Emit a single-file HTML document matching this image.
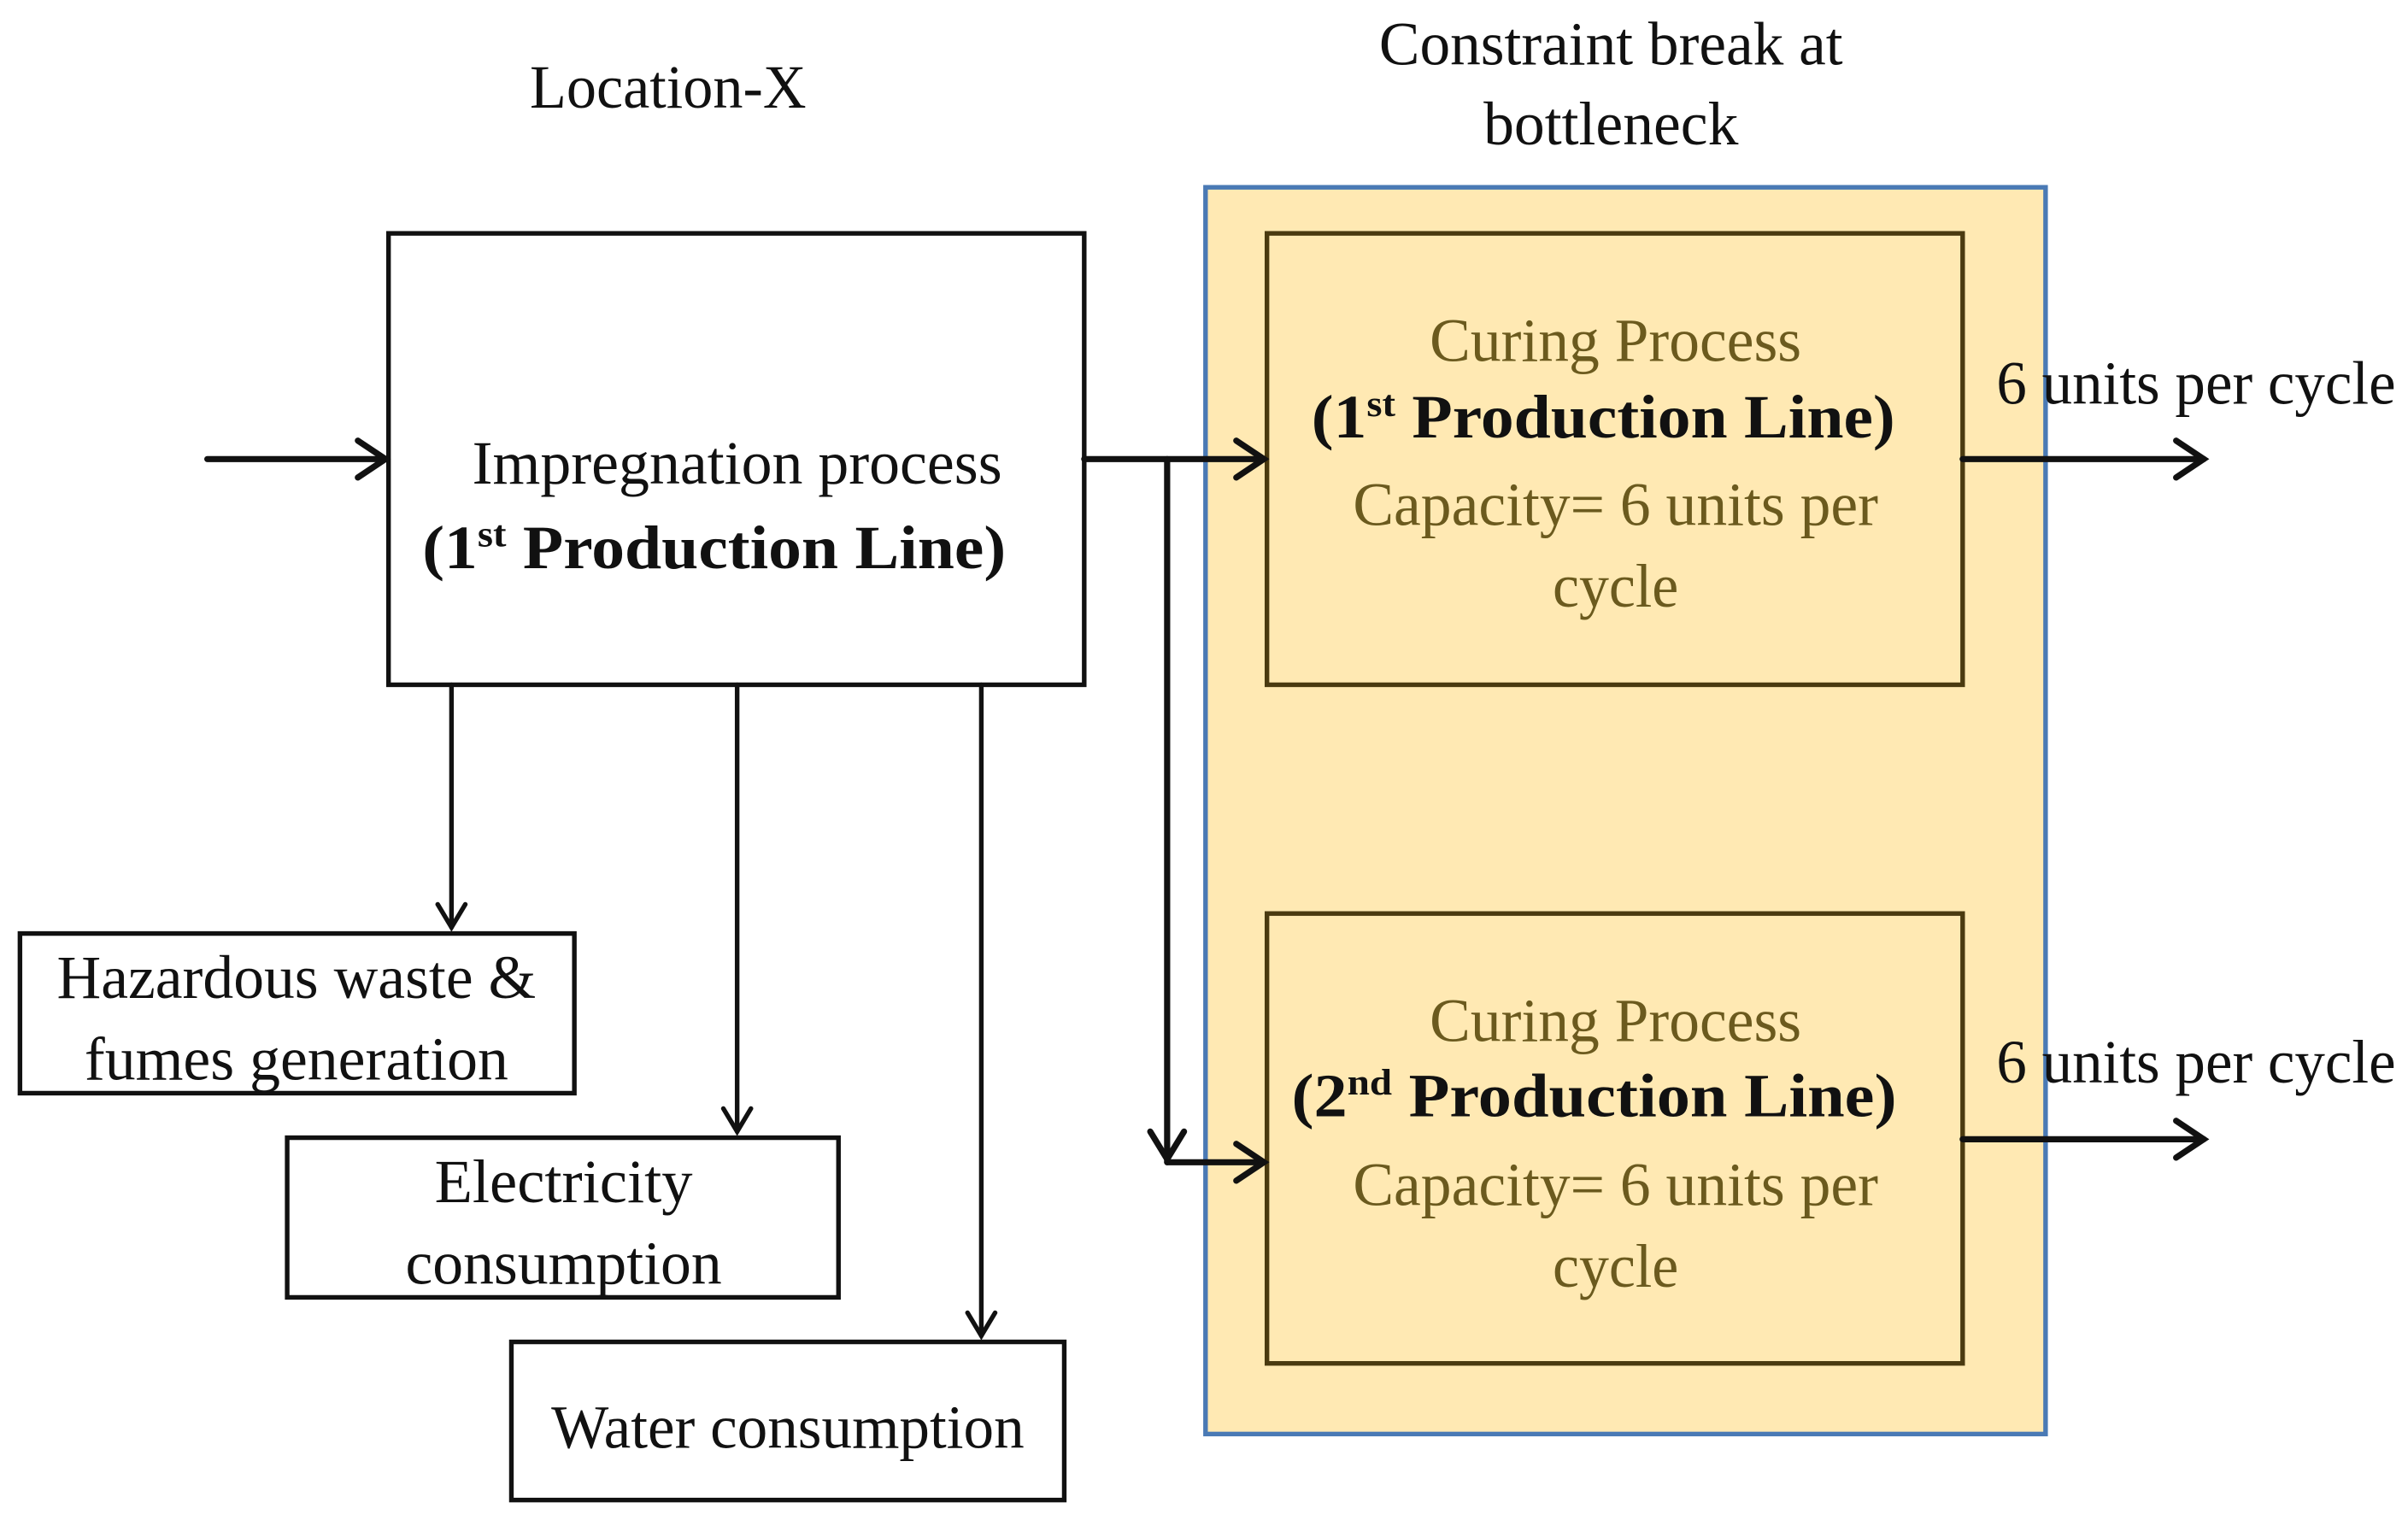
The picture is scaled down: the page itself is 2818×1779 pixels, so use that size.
<!DOCTYPE html>
<html><head><meta charset="utf-8"><style>html,body{margin:0;padding:0;background:#fff}svg{display:block}</style></head>
<body>
<svg width="2818" height="1779" viewBox="0 0 1568 990" preserveAspectRatio="none" xmlns="http://www.w3.org/2000/svg" font-family="Liberation Serif, serif" font-size="40">
<defs>
<marker id="a" viewBox="0 0 10 10" refX="9" refY="5" markerWidth="6" markerHeight="6" orient="auto" markerUnits="userSpaceOnUse">
</marker>
</defs>
<g text-anchor="middle" fill="#111">
<text x="435" y="70" textLength="180" lengthAdjust="spacingAndGlyphs">Location-X</text>
<text x="1049" y="42" textLength="302" lengthAdjust="spacingAndGlyphs">Constraint break at</text>
<text x="1049" y="94" textLength="166" lengthAdjust="spacingAndGlyphs">bottleneck</text>
</g>
<rect x="785" y="122" width="547" height="812" fill="#FFE9B3" stroke="#4a7ab5" stroke-width="3"/>
<g fill="none" stroke="#111" stroke-width="3">
<rect x="253" y="152" width="453" height="294" fill="#fff"/>
<rect x="13" y="608" width="361" height="104" fill="#fff"/>
<rect x="187" y="741" width="359" height="104" fill="#fff"/>
<rect x="333" y="874" width="360" height="103" fill="#fff"/>
</g>
<g fill="none" stroke="#4a3a10" stroke-width="3">
<rect x="825" y="152" width="453" height="294"/>
<rect x="825" y="595" width="453" height="293"/>
</g>
<g fill="none" stroke="#111" stroke-width="4" stroke-linecap="round">
<line x1="135" y1="299" x2="251" y2="299"/><polyline points="233,287 251,299 233,311"/>
<line x1="706" y1="299" x2="823" y2="299"/><polyline points="805,287 823,299 805,311"/>
<line x1="760" y1="299" x2="760" y2="757"/><polyline points="749,737 760,755 771,737"/>
<line x1="760" y1="757" x2="823" y2="757"/><polyline points="805,745 823,757 805,769"/>
<line x1="1278" y1="299" x2="1435" y2="299"/><polyline points="1417,287 1435,299 1417,311"/>
<line x1="1278" y1="742" x2="1435" y2="742"/><polyline points="1417,730 1435,742 1417,754"/>
</g>
<g fill="none" stroke="#111" stroke-width="3" stroke-linecap="round">
<line x1="294" y1="446" x2="294" y2="604"/><polyline points="285,589 294,604 303,589"/>
<line x1="480" y1="446" x2="480" y2="737"/><polyline points="471,722 480,737 489,722"/>
<line x1="639" y1="446" x2="639" y2="870"/><polyline points="630,855 639,870 648,855"/>
</g>
<g text-anchor="middle" fill="#111">
<text x="480" y="315" textLength="345" lengthAdjust="spacingAndGlyphs">Impregnation process</text>
<text x="465" y="370" font-weight="bold" textLength="380" lengthAdjust="spacingAndGlyphs">(1<tspan font-size="24" dy="-14">st</tspan><tspan dy="14"> Production Line)</tspan></text>
<text x="193" y="650" textLength="312" lengthAdjust="spacingAndGlyphs">Hazardous waste &amp;</text>
<text x="193" y="703" textLength="276" lengthAdjust="spacingAndGlyphs">fumes generation</text>
<text x="367" y="783" textLength="168" lengthAdjust="spacingAndGlyphs">Electricity</text>
<text x="367" y="836" textLength="206" lengthAdjust="spacingAndGlyphs">consumption</text>
<text x="513" y="943" textLength="308" lengthAdjust="spacingAndGlyphs">Water consumption</text>
</g>
<g text-anchor="middle" fill="#6b5a1e">
<text x="1052" y="235" textLength="242" lengthAdjust="spacingAndGlyphs">Curing Process</text>
<text x="1044" y="285" font-weight="bold" fill="#111" textLength="380" lengthAdjust="spacingAndGlyphs">(1<tspan font-size="24" dy="-14">st</tspan><tspan dy="14"> Production Line)</tspan></text>
<text x="1052" y="342" textLength="342" lengthAdjust="spacingAndGlyphs">Capacity= 6 units per</text>
<text x="1052" y="395" textLength="82" lengthAdjust="spacingAndGlyphs">cycle</text>
<text x="1052" y="678" textLength="242" lengthAdjust="spacingAndGlyphs">Curing Process</text>
<text x="1038" y="727" font-weight="bold" fill="#111" textLength="394" lengthAdjust="spacingAndGlyphs">(2<tspan font-size="24" dy="-14">nd</tspan><tspan dy="14"> Production Line)</tspan></text>
<text x="1052" y="785" textLength="342" lengthAdjust="spacingAndGlyphs">Capacity= 6 units per</text>
<text x="1052" y="838" textLength="82" lengthAdjust="spacingAndGlyphs">cycle</text>
</g>
<g fill="#111">
<text x="1300" y="263" textLength="260" lengthAdjust="spacingAndGlyphs">6 units per cycle</text>
<text x="1300" y="705" textLength="260" lengthAdjust="spacingAndGlyphs">6 units per cycle</text>
</g>
</svg>
</body></html>
